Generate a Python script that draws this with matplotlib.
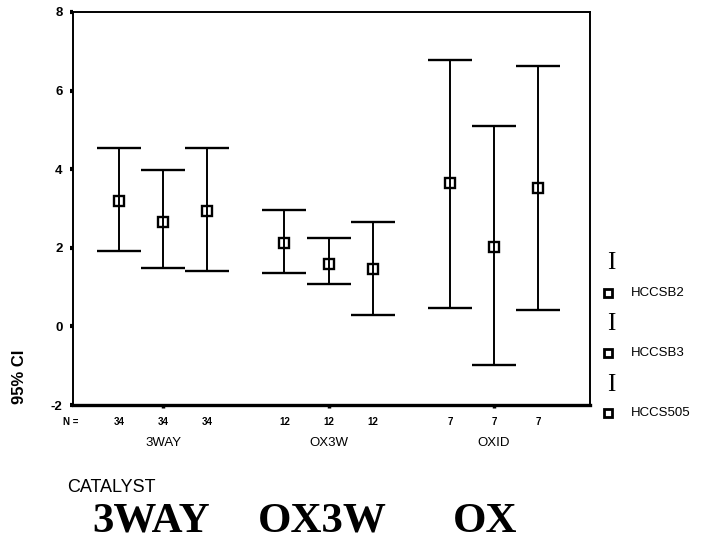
import matplotlib
matplotlib.use("Agg")
import matplotlib.pyplot as plt
from matplotlib.lines import Line2D
from matplotlib.transforms import blended_transform_factory
import numpy as np

# ---- data ----
categories = ["3WAY", "OX3W", "OXID"]
big_labels = ["3WAY", "OX3W", "OX"]
n_counts = [34, 12, 7]
series = ["HCCSB2", "HCCSB3", "HCCS505"]
mean_hccsb2 = [3.18, 2.11, 3.64]
mean_hccsb3 = [2.65, 1.60, 2.01]
mean_hccs505 = [2.93, 1.45, 3.51]
upper_hccsb2 = [4.55, 2.95, 6.79]
upper_hccsb3 = [3.97, 2.24, 5.09]
upper_hccs505 = [4.55, 2.65, 6.62]
lower_hccsb2 = [1.91, 1.37, 0.48]
lower_hccsb3 = [1.48, 1.09, -0.99]
lower_hccs505 = [1.40, 0.28, 0.43]
yticks = [-2, 0, 2, 4, 6, 8]

means = [mean_hccsb2, mean_hccsb3, mean_hccs505]
uppers = [upper_hccsb2, upper_hccsb3, upper_hccs505]
lowers = [lower_hccsb2, lower_hccsb3, lower_hccs505]

W, H = 705, 543
fig = plt.figure(figsize=(W / 100, H / 100), dpi=100)
ax = fig.add_axes([73 / W, 1 - 405 / H, (590 - 73) / W, (405 - 12) / H])

font = "Liberation Sans"
centers = np.arange(1, len(categories) + 1)
offsets = [-0.266, 0.0, 0.266]

for s, off in enumerate(offsets):
    m = np.array(means[s])
    up = np.array(uppers[s])
    lo = np.array(lowers[s])
    ax.errorbar(centers + off, m, yerr=[m - lo, up - m], fmt="s",
                mfc="none", mec="black", mew=1.7, ms=7, color="black",
                ecolor="black", elinewidth=1.4, capsize=16, capthick=1.9)

ax.set_xlim(0.456, 3.58)
ax.set_ylim(-2, 8)
ax.set_yticks(yticks)
ax.set_yticklabels([str(t) for t in yticks], fontfamily=font,
                   fontweight="bold", fontsize=9.5)
ax.tick_params(axis="y", length=2.5, width=3, pad=5)
ax.set_xticks(centers)
ax.set_xticklabels([])
ax.tick_params(axis="x", length=2, width=2.5, direction="out")

for side in ["left", "top", "right"]:
    ax.spines[side].set_linewidth(1.4)
ax.spines["bottom"].set_linewidth(2.4)

fig.text(20 / W, 1 - 377 / H, "95% CI", fontfamily=font, fontsize=12,
         fontweight="bold", rotation=90, ha="center", va="center")

trans = blended_transform_factory(ax.transData, ax.transAxes)
for i, c in enumerate(centers):
    for off in offsets:
        ax.annotate(str(n_counts[i]), xy=(c + off, 0), xycoords=trans,
                    xytext=(0, -12.5), textcoords="offset points",
                    ha="center", va="center", fontsize=7,
                    fontweight="bold", fontfamily=font)
    ax.annotate(categories[i], xy=(c, 0), xycoords=trans,
                xytext=(0, -27), textcoords="offset points",
                ha="center", va="center", fontsize=9.5, fontfamily=font)
ax.annotate("N =", xy=(0, 0), xycoords="axes fraction",
            xytext=(-2, -12.5), textcoords="offset points",
            ha="center", va="center", fontsize=7, fontweight="bold",
            fontfamily=font)

# ---- legend (manual) ----
leg_I_y = [263, 324, 385]
leg_sq_y = [293, 353, 413]
for k, name in enumerate(series):
    fig.text(611 / W, 1 - leg_I_y[k] / H, "I", fontfamily="Liberation Serif",
             fontsize=18, ha="center", va="center")
    fig.add_artist(Line2D([608 / W], [1 - leg_sq_y[k] / H], marker="s",
                          ms=6, mfc="none", mec="black", mew=2.0,
                          linestyle="none"))
    fig.text(631 / W, 1 - leg_sq_y[k] / H, name, fontfamily=font,
             fontsize=9.5, ha="left", va="center")

# ---- bottom labels ----
fig.text(67 / W, 1 - 487 / H, "CATALYST", fontfamily=font, fontsize=13,
         ha="left", va="center")
big_x = [151, 322, 485]
for lab, x in zip(big_labels, big_x):
    fig.text(x / W, 1 - 532 / H, lab, fontfamily="Liberation Serif",
             fontweight="bold", fontsize=31, ha="center", va="baseline")

fig.savefig("out.png", dpi=100)
